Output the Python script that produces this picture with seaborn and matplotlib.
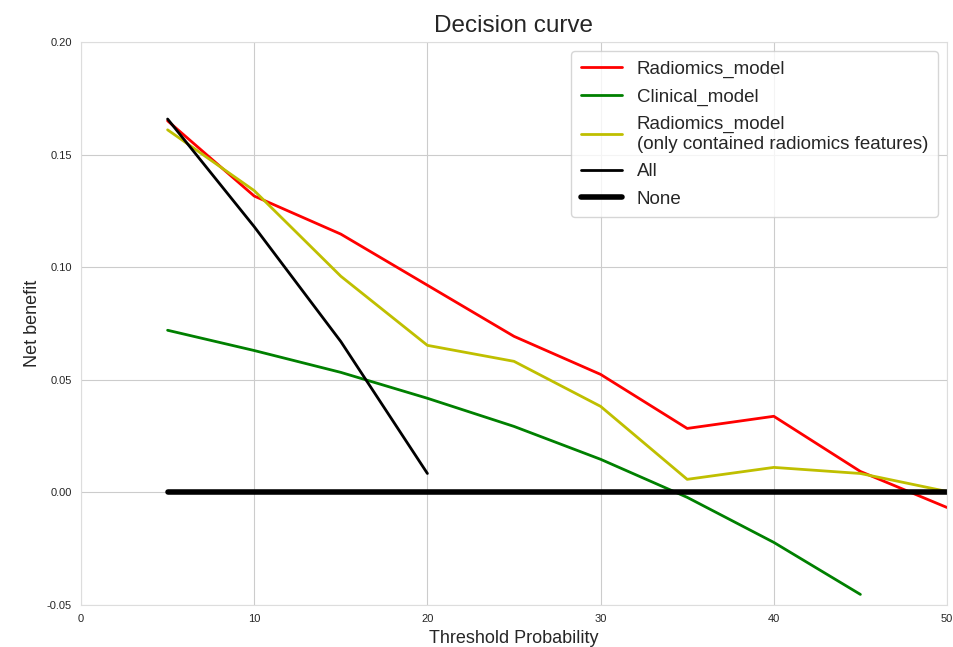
import numpy as np
import pandas as pd
import matplotlib
matplotlib.use("Agg")
import matplotlib.pyplot as plt
import seaborn as sns

# threshold probabilities (%)
thresholds = [5, 10, 15, 20, 25, 30, 35, 40, 45, 50]

radiomics = [0.165, 0.1316, 0.1147, 0.092, 0.0693, 0.0524, 0.0284, 0.0338, 0.0093, -0.0067]
clinical = [0.072, 0.063, 0.0533, 0.0418, 0.0293, 0.0147, -0.0022, -0.0222, -0.0453]
radiomics_only = [0.161, 0.134, 0.096, 0.0653, 0.0582, 0.0382, 0.0058, 0.0111, 0.0084, 0.0004]
treat_all = [0.1658, 0.118, 0.067, 0.0084]
treat_none = [0.0] * 10

sns.set_style("whitegrid")
plt.rcParams['font.family'] = ['Liberation Sans', 'DejaVu Sans']

fig = plt.figure(figsize=(9.54, 6.47), dpi=100)
ax = fig.add_axes([81/954, 1 - 605/647, (947-81)/954, (605-42)/647])

sns.lineplot(x=thresholds, y=radiomics, color='r', lw=2, label='Radiomics_model', ax=ax)
sns.lineplot(x=thresholds[:9], y=clinical, color='g', lw=2, label='Clinical_model', ax=ax)
sns.lineplot(x=thresholds, y=radiomics_only, color='y', lw=2,
             label='Radiomics_model\n(only contained radiomics features)', ax=ax)
sns.lineplot(x=thresholds[:4], y=treat_all, color='k', lw=2, label='All', ax=ax)
sns.lineplot(x=thresholds, y=treat_none, color='k', lw=4, label='None', ax=ax)

ax.set_xlim(0, 50)
ax.set_ylim(-0.05, 0.20)
ax.set_xticks([0, 10, 20, 30, 40, 50])
ax.set_yticks([-0.05, 0.0, 0.05, 0.10, 0.15, 0.20])
ax.set_yticklabels(['%.2f' % v for v in [-0.05, 0.0, 0.05, 0.10, 0.15, 0.20]])
ax.tick_params(labelsize=8, pad=3)
for s in ax.spines.values():
    s.set_color('#dddddd')

ax.set_title('Decision curve', fontsize=17.5, pad=7)
ax.set_xlabel('Threshold Probability', fontsize=13, labelpad=4)
ax.set_ylabel('Net benefit', fontsize=13)
ax.legend(loc='upper right', fontsize=13.5, frameon=True, labelspacing=0.55,
          handlelength=2.2, borderaxespad=0.5, borderpad=0.5)

plt.savefig("out.png", dpi=100)
